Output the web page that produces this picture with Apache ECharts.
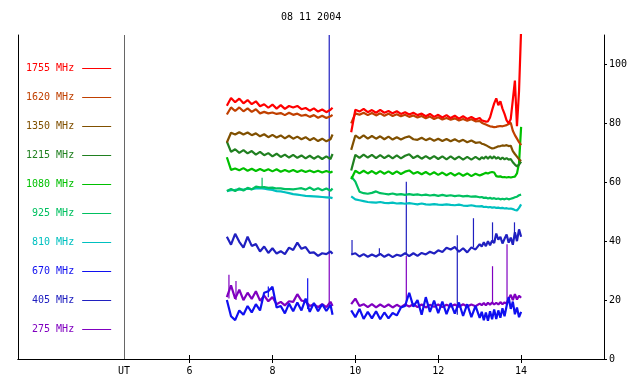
<!DOCTYPE html>
<html><head><meta charset="utf-8">
<script src="https://cdn.jsdelivr.net/npm/echarts@6/dist/echarts.min.js"></script>
<style>html,body{margin:0;padding:0;background:#fff}#c{width:640px;height:384px}</style>
</head><body><div id="c"></div>
<script>
const TITLE = '08 11 2004';
const UT_LABEL = 'UT';
const UT_POS = 4.42;
const X_TICKS = [6, 8, 10, 12, 14];
const Y_TICKS = [0, 20, 40, 60, 80, 100];
const NAMES = ['1755 MHz', '1620 MHz', '1350 MHz', '1215 MHz', '1080 MHz', '925 MHz', '810 MHz', '670 MHz', '405 MHz', '275 MHz'];

const TIME = [
  6.9, 7.0, 7.1, 7.2, 7.3, 7.4, 7.5, 7.6, 7.7, 7.8, 7.9, 8.0, 8.1, 8.2, 8.3, 8.4, 8.5, 8.6, 8.7, 8.8, 8.9, 9.0, 9.1, 9.2, 9.3, 9.4, 9.45,
  9.7,
  9.9, 10.0, 10.1, 10.2, 10.3, 10.4, 10.5, 10.6, 10.7, 10.8, 10.9, 11.0, 11.1, 11.2, 11.3, 11.4, 11.5, 11.6, 11.7, 11.8, 11.9, 12.0, 12.1, 12.2, 12.3, 12.4, 12.5, 12.6, 12.7, 12.8, 12.9, 13.0,
  13.05, 13.1, 13.15, 13.2, 13.25, 13.3, 13.35, 13.4, 13.45, 13.5, 13.55, 13.6, 13.65, 13.7, 13.75, 13.8, 13.85, 13.9, 13.95, 14.0
];

const F1755 = [
  86.0, 88.6, 87.2, 88.4, 86.8, 87.9, 86.5, 87.5, 85.8, 86.5, 85.3, 86.4, 85.0, 86.2, 84.9, 85.9, 85.4, 85.9, 84.8, 85.2, 84.3, 85.1, 84.0, 84.7, 83.8, 84.6, 85.3,
  null,
  77.0, 84.6, 84.0, 84.9, 83.8, 84.5, 83.6, 84.6, 83.6, 84.2, 83.4, 84.1, 83.2, 83.8, 83.0, 83.6, 82.8, 83.3, 82.4, 83.2, 82.2, 82.9, 82.0, 82.8, 81.8, 82.6, 81.6, 82.4, 81.5, 82.2, 81.3, 81.8,
  81.0, 80.8, 80.6, 80.7, 82.0, 84.5, 86.8, 88.5, 86.2, 87.5, 85.0, 83.2, 81.0, 80.0, 81.5, 88.0, 94.5, 79.0, 91.0, 112
];
const F1620 = [
  83.0, 85.4, 84.2, 85.4, 84.1, 85.1, 83.9, 84.8, 83.4, 83.9, 83.4, 83.7, 83.2, 83.5, 82.8, 83.6, 82.9, 83.3, 82.6, 82.9, 82.2, 82.8, 81.9, 82.6, 81.8, 82.4, 82.9,
  null,
  80.0, 83.4, 82.9, 83.6, 82.8, 83.5, 82.7, 83.4, 82.6, 83.3, 82.5, 83.1, 82.4, 82.9, 82.2, 82.7, 82.0, 82.5, 81.7, 82.3, 81.5, 82.1, 81.3, 81.8, 81.2, 81.7, 81.0, 81.5, 80.9, 81.4, 80.7, 80.8,
  80.2, 79.9, 79.6, 79.3, 79.0, 78.9, 78.7, 78.8, 79.0, 79.1, 79.0, 79.2, 79.4, 79.8, 80.2, 77.5, 76.0, 74.8, 73.6, 72.6
];
const F1350 = [
  73.5, 76.8, 76.2, 77.0, 76.2, 76.9, 76.0, 76.6, 75.6, 76.3, 75.3, 76.1, 75.2, 75.9, 74.9, 75.8, 74.8, 75.5, 74.6, 75.3, 74.3, 75.0, 74.0, 74.8, 73.9, 74.6, 76.2,
  null,
  71.0, 75.9, 74.9, 75.9, 74.8, 75.7, 74.8, 75.6, 74.6, 75.5, 74.5, 75.3, 74.5, 75.2, 75.6, 74.6, 74.4, 75.1, 74.3, 74.9, 74.1, 74.8, 74.0, 74.7, 73.9, 74.6, 73.8, 74.4, 73.6, 74.2, 73.4, 73.6,
  73.1, 72.9, 72.6, 72.2, 71.8, 71.5, 71.6, 71.9, 72.2, 72.3, 72.5, 72.4, 72.6, 72.3, 72.4, 70.6, 69.6, 68.7, 67.8, 67.2
];
const F1215 = [
  73.8, 70.3, 71.2, 70.0, 70.9, 69.8, 70.6, 69.4, 70.3, 69.2, 69.9, 68.8, 69.7, 68.6, 69.4, 68.4, 69.3, 68.3, 69.1, 68.1, 69.0, 68.0, 68.9, 67.9, 68.8, 67.9, 69.6,
  null,
  64.0, 69.3, 68.3, 69.4, 68.4, 69.3, 68.2, 69.2, 68.2, 69.1, 68.1, 69.1, 68.1, 69.0, 69.5, 68.2, 69.0, 68.0, 68.9, 68.0, 68.9, 67.9, 68.8, 67.8, 68.8, 67.8, 68.7, 67.7, 68.6, 67.7, 68.6, 67.7,
  68.5, 68.0, 68.8, 68.0, 68.8, 68.1, 68.8, 68.0, 68.5, 67.8, 68.4, 67.8, 68.2, 67.7, 67.9, 66.8, 66.0, 65.4, 66.0, 67.0
];
const F1080 = [
  68.5, 64.2, 64.7, 64.1, 64.8, 63.9, 64.6, 63.8, 64.5, 63.8, 64.4, 63.7, 64.4, 63.6, 64.2, 63.6, 64.2, 63.5, 64.1, 63.5, 64.0, 63.4, 63.9, 63.3, 63.8, 63.3, 63.7,
  null,
  61.0, 63.9, 63.0, 63.9, 63.0, 63.8, 62.9, 63.8, 62.9, 63.7, 62.8, 63.7, 62.8, 63.6, 64.0, 62.9, 63.5, 62.7, 63.5, 62.6, 63.4, 62.5, 63.3, 62.4, 63.2, 62.3, 63.1, 62.2, 63.0, 62.1, 62.9, 62.3,
  62.6, 62.9, 63.2, 63.0, 63.3, 63.5, 63.3, 62.1, 61.9, 62.0, 61.7, 61.8, 61.6, 61.8, 61.6, 61.8, 61.9, 63.0, 66.5, 78.8
];
const F925 = [
  57.0, 57.7, 57.0, 57.9, 57.2, 58.1, 57.6, 58.5, 58.3, 58.4, 58.1, 58.2, 57.9, 57.9, 57.7, 57.7, 57.6, 57.8, 58.0, 57.5, 58.2, 57.4, 58.0, 57.3, 57.9, 57.1, 57.9,
  null,
  62.0, 60.2, 56.8, 56.3, 56.1, 56.4, 56.9, 56.3, 56.1, 55.9, 56.2, 55.8, 56.0, 55.7, 56.0, 55.7, 55.9, 55.6, 55.8, 55.5, 55.7, 55.4, 55.7, 55.4, 55.6, 55.3, 55.5, 55.2, 55.4, 55.1, 55.2, 54.9,
  55.0, 54.7, 54.8, 54.5, 54.7, 54.4, 54.6, 54.3, 54.5, 54.2, 54.4, 54.2, 54.5, 54.2, 54.4, 54.6, 54.9, 55.1, 55.6, 55.8
];
const F810 = [
  57.0, 57.3, 57.4, 57.6, 57.5, 57.8, 57.7, 57.9, 58.0, 57.8, 57.6, 57.4, 57.0, 56.9, 56.6, 56.3, 56.0, 55.8, 55.6, 55.4, 55.3, 55.2, 55.1, 55.0, 54.9, 54.8, 54.6,
  null,
  55.2, 54.2, 53.9, 53.6, 53.3, 53.2, 53.1, 53.3, 53.0, 52.9, 53.1, 52.8, 52.9, 52.7, 52.9, 52.7, 52.5, 52.8, 52.5, 52.4, 52.6, 52.4, 52.3, 52.5, 52.3, 52.2, 52.4, 52.1, 52.0, 52.2, 51.9, 51.8,
  51.9, 51.6, 51.7, 51.5, 51.6, 51.4, 51.5, 51.3, 51.4, 51.2, 51.3, 51.1, 51.2, 51.0, 51.1, 50.9, 50.6, 50.4, 51.3, 52.5
];
const F670 = [
  20.0, 14.5, 13.2, 16.5, 15.0, 18.0, 15.8, 18.6, 16.5, 22.5, 23.0, 24.5, 17.5, 18.0, 15.5, 18.8, 16.2, 19.2, 16.5, 20.5, 16.0, 19.0, 16.2, 18.6, 16.3, 18.4, 15.0,
  null,
  16.5, 14.2, 17.0, 13.6, 16.0, 13.8, 16.2, 13.5, 15.8, 13.8, 15.6, 14.8, 17.5, 18.0, 22.5, 17.8, 20.0, 15.0, 21.0, 16.0, 19.8, 15.6, 19.5, 15.2, 19.0, 15.4, 19.2, 14.6, 18.6, 14.2, 18.0, 14.0,
  16.0, 13.2, 15.8, 13.0, 16.2, 13.5, 16.8, 13.6, 16.5, 14.0, 17.2, 14.5, 18.0, 21.0, 17.0, 19.5, 15.2, 17.5, 14.2, 16.0
];
const F405 = [
  41.5, 38.8, 42.5, 39.8, 37.8, 41.5, 38.4, 39.0, 36.5, 38.2, 36.0, 37.6, 35.8, 36.6, 35.6, 37.8, 37.0, 39.5, 37.4, 38.0, 36.0, 36.2, 35.0, 35.9, 35.6, 36.5, 35.7,
  null,
  35.5, 35.9, 34.8, 35.6, 34.7, 35.5, 34.8, 35.7, 34.7, 35.5, 34.6, 35.4, 35.0, 35.9, 34.9, 35.9, 35.0, 36.0, 35.5, 36.4, 35.8, 36.9, 36.3, 37.8, 37.2, 38.0, 36.4, 37.6, 36.2, 37.9, 37.2, 39.0,
  38.2, 39.6, 38.3, 40.0, 38.6, 40.2, 39.4, 42.6, 40.5, 41.5, 39.2, 40.8, 42.3, 39.5, 41.2, 38.8, 43.0, 40.0, 44.0, 41.5
];
const F275 = [
  21.0, 25.0, 20.5, 23.5, 20.0, 22.5, 20.4, 23.0, 19.8, 21.5, 19.6, 21.0, 18.6, 19.4, 18.2, 19.6, 19.4, 22.0, 19.8, 19.6, 18.0, 18.6, 17.6, 18.6, 17.6, 19.4, 18.0,
  null,
  18.6, 20.5, 18.0, 18.6, 17.6, 18.6, 17.5, 18.5, 17.6, 18.5, 17.5, 18.4, 17.6, 18.5, 17.8, 18.6, 17.6, 18.5, 17.5, 18.4, 17.7, 18.5, 17.6, 18.4, 17.8, 18.5, 17.7, 18.6, 17.8, 18.5, 17.9, 18.8,
  18.3, 19.0, 18.2, 19.1, 18.4, 19.2, 18.5, 19.1, 18.5, 19.3, 18.6, 19.2, 18.8, 20.5, 21.8, 20.0, 22.0, 20.2, 21.5, 20.8
];

// spikes: [time, low, high]
const SPIKES_925 = [[7.75, 58.3, 61.5]];
const SPIKES_670 = [[7.9, 21.0, 24.6], [8.85, 17.0, 27.4]];
const SPIKES_405 = [[9.37, 36.0, 111], [9.92, 35.5, 40.4], [10.58, 35.1, 37.6], [11.23, 35.5, 60.2], [12.46, 15.0, 42.0], [12.85, 38.0, 47.8], [13.31, 39.5, 46.4], [13.84, 41.0, 46.4]];
const SPIKES_275 = [[6.95, 20.5, 28.6], [7.12, 20.0, 26.5], [9.37, 18.5, 36.0], [11.23, 18.0, 35.0], [13.31, 18.8, 31.5], [13.66, 19.0, 39.0]];

const VALUES = [F1755, F1620, F1350, F1215, F1080, F925, F810, F670, F405, F275];
const COLORS = ['#ff0000', '#c04000', '#805000', '#208020', '#00c000', '#00c060', '#00c0c0', '#1010f0', '#2020c0', '#8000c0'];
const SPIKES = { '925 MHz': SPIKES_925, '670 MHz': SPIKES_670, '405 MHz': SPIKES_405, '275 MHz': SPIKES_275 };

const FONT = 'DejaVu Sans Mono';
const chart = echarts.init(document.getElementById('c'), null, { renderer: 'canvas' });

const series = [];
for (let k = NAMES.length - 1; k >= 0; k--) {
  const vals = VALUES[k];
  const s = {
    name: NAMES[k], type: 'line', xAxisIndex: 0, yAxisIndex: 0,
    data: TIME.map((t, i) => [t, vals[i] === null ? '-' : vals[i]]),
    showSymbol: false, symbol: 'none', connectNulls: false, clip: true,
    lineStyle: { color: COLORS[k], width: 2.2 }, itemStyle: { color: COLORS[k] },
    emphasis: { disabled: true }, silent: true
  };
  if (k === NAMES.length - 1) {
    s.markLine = {
      silent: true, symbol: ['none', 'none'], label: { show: false },
      lineStyle: { color: '#666', width: 1, type: 'solid' },
      data: [{ xAxis: UT_POS }]
    };
  }
  series.push(s);
}
NAMES.forEach((n, k) => {
  if (!SPIKES[n]) return;
  series.push({
    name: n + ' spikes', type: 'custom', xAxisIndex: 0, yAxisIndex: 0, clip: true, silent: true,
    data: SPIKES[n], encode: { x: 0, y: [1, 2] },
    renderItem: (params, api) => {
      const a = api.coord([api.value(0), api.value(1)]);
      const b = api.coord([api.value(0), api.value(2)]);
      return { type: 'line', shape: { x1: a[0], y1: a[1], x2: b[0], y2: b[1] }, style: { stroke: COLORS[k], lineWidth: 1.2 } };
    }
  });
});

chart.setOption({
  animation: false,
  backgroundColor: '#fff',
  title: { text: TITLE, left: 281, top: 12, padding: 0, textStyle: { fontFamily: FONT, fontSize: 10, fontWeight: 'normal', color: '#000' } },
  grid: { left: 18, right: 36, top: 35, bottom: 25 },
  legend: {
    orient: 'vertical', align: 'right', left: 26, top: 62.5, padding: 0, itemGap: 17,
    icon: 'rect', itemWidth: 29, itemHeight: 1, selectedMode: false,
    textStyle: { fontFamily: FONT, fontSize: 10, lineHeight: 12, padding: [0, 3, 0, 0] },
    data: NAMES.map((n, k) => ({
      name: n,
      textStyle: { color: COLORS[k] },
      itemStyle: { color: COLORS[k], borderWidth: 0 },
      lineStyle: { color: COLORS[k], width: 1.2 }
    }))
  },
  xAxis: [
    {
      type: 'value', position: 'bottom', min: 1.86, max: 16.0,
      axisLine: { show: true, lineStyle: { color: '#000', width: 1 } },
      axisTick: { show: true, inside: true, length: 4, customValues: X_TICKS, lineStyle: { color: '#000' } },
      axisLabel: { show: true, customValues: [UT_POS].concat(X_TICKS), margin: 7, fontFamily: FONT, fontSize: 10, color: '#000',
        formatter: v => (Math.abs(v - UT_POS) < 1e-6 ? UT_LABEL : String(v)) },
      splitLine: { show: false }
    },
    {
      type: 'value', position: 'top', min: 1.86, max: 16.0,
      axisLine: { show: true, lineStyle: { color: '#000', width: 1 } },
      axisTick: { show: true, inside: true, length: 4, customValues: X_TICKS, lineStyle: { color: '#000' } },
      axisLabel: { show: false }, splitLine: { show: false }
    }
  ],
  yAxis: [
    {
      type: 'value', position: 'right', min: 0, max: 110,
      axisLine: { show: true, lineStyle: { color: '#000', width: 1 } },
      axisTick: { show: true, inside: false, length: 3, customValues: Y_TICKS, lineStyle: { color: '#000' } },
      axisLabel: { show: true, customValues: Y_TICKS, margin: 5, fontFamily: FONT, fontSize: 10, color: '#000' },
      splitLine: { show: false }
    },
    {
      type: 'value', position: 'left', min: 0, max: 110,
      axisLine: { show: true, lineStyle: { color: '#000', width: 1 } },
      axisTick: { show: false }, axisLabel: { show: false }, splitLine: { show: false }
    }
  ],
  series: series
});
</script></body></html>
